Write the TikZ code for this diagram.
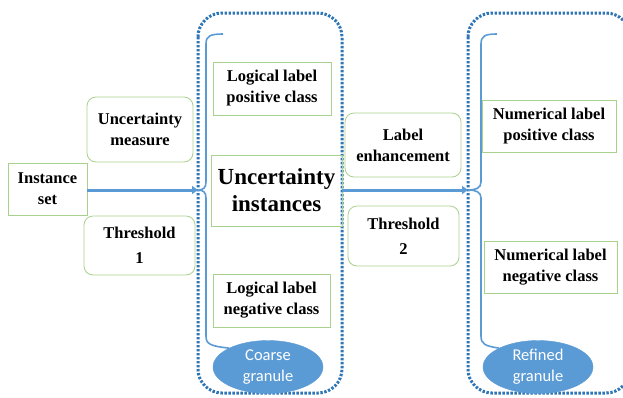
\documentclass[tikz,border=0pt]{standalone}
\usepackage{fontspec}
\setmainfont{Liberation Serif}
\newfontfamily\granfont{Carlito}
\usetikzlibrary{positioning,arrows.meta,shapes.geometric}
\definecolor{colorbox}   {RGB}{169,209,142}
\definecolor{colorline}  {RGB}{91 ,155,213}
\definecolor{colorframe} {RGB}{46 ,117,182}
\definecolor{colortext}  {RGB}{0  ,0  ,0  }

\begin{document}
\begin{tikzpicture}[
    x=1pt, y=-1pt,
    font={\bfseries\fontsize{16.5}{21}\selectfont},
    base/.style={text=colortext,align=center,inner sep=2pt,draw=colorbox,line width=0.8pt},
    sqbox/.style={base,rectangle},
    rndbox/.style={base,rectangle,rounded corners=9pt},
    bigtxt/.style={sqbox,font={\bfseries\fontsize{23}{27}\selectfont}},
    granule/.style={ellipse,fill=colorline,draw=colorline,text=white,align=center,
        minimum width=110pt,minimum height=53pt,inner sep=0pt,
        font={\granfont\fontsize{16.5}{21}\selectfont}},
    frame/.style={draw=colorframe,line width=3pt,dash pattern=on 2.4pt off 1.6pt,rounded corners=24pt},
    brace/.style={draw=colorline,line width=1.6pt},
    flow/.style={colorline,line width=3pt,-{Triangle[length=6pt,width=8pt]}},
]
    \useasboundingbox (0,0) rectangle (623,397);

    % Frames
    \draw[frame] (198,13) rectangle (342,393);
    \draw[frame] (468,13) rectangle (630,393);

    % Nodes
    \node[sqbox,minimum width=79pt,minimum height=52pt]   (inst)  at (47.5,189)  {Instance\\set};
    \node[rndbox,minimum width=106pt,minimum height=65pt] (umeas) at (140,129.5) {Uncertainty\\measure};
    \node[rndbox,minimum width=111pt,minimum height=59pt] (thr1)  at (139.5,245.5) {Threshold\\[4pt]1};
    \node[sqbox,minimum width=118pt,minimum height=53pt]  (lpos)  at (272,88.5)  {Logical label\\positive class};
    \node[bigtxt,minimum width=131pt,minimum height=71pt] (uinst) at (276.5,190.5) {Uncertainty\\instances};
    \node[sqbox,minimum width=117pt,minimum height=53pt]  (lneg)  at (271.5,300.5) {Logical label\\negative class};
    \node[granule] (coarse) at (268,367) {Coarse\\granule};
    \node[rndbox,minimum width=116pt,minimum height=64pt] (lenh)  at (403,145)   {Label\\enhancement};
    \node[rndbox,minimum width=111pt,minimum height=60pt] (thr2)  at (403.5,236) {Threshold\\[4pt]2};
    \node[sqbox,minimum width=134pt,minimum height=52pt]  (npos)  at (549,126)   {Numerical label\\positive class};
    \node[sqbox,minimum width=133pt,minimum height=52pt]  (nneg)  at (550.5,267) {Numerical label\\negative class};
    \node[granule] (refined) at (538,367) {Refined\\granule};

    % Braces
    \coordinate (tip1) at (198,190);
    \coordinate (tip2) at (468,190);
    \draw[brace] (223,34) .. controls (210,34) and (206,36) .. (206,44)
        -- (206,182) .. controls (206,188) and (203,190) .. (tip1)
        .. controls (203,190) and (206,192) .. (206,198)
        -- (206,336) .. controls (206,344) and (210,346) .. (coarse.north west);
    \draw[brace] (497,34) .. controls (485,34) and (481,36) .. (481,44)
        -- (481,182) .. controls (481,188) and (476,190) .. (tip2)
        .. controls (476,190) and (481,192) .. (481,198)
        -- (481,336) .. controls (481,344) and (485,346) .. (refined.north west);

    % Arrows
    \draw[flow] (inst.east |- tip1) -- (tip1);
    \draw[flow] (uinst.east |- tip2) -- (tip2);

\end{tikzpicture}
\end{document}
